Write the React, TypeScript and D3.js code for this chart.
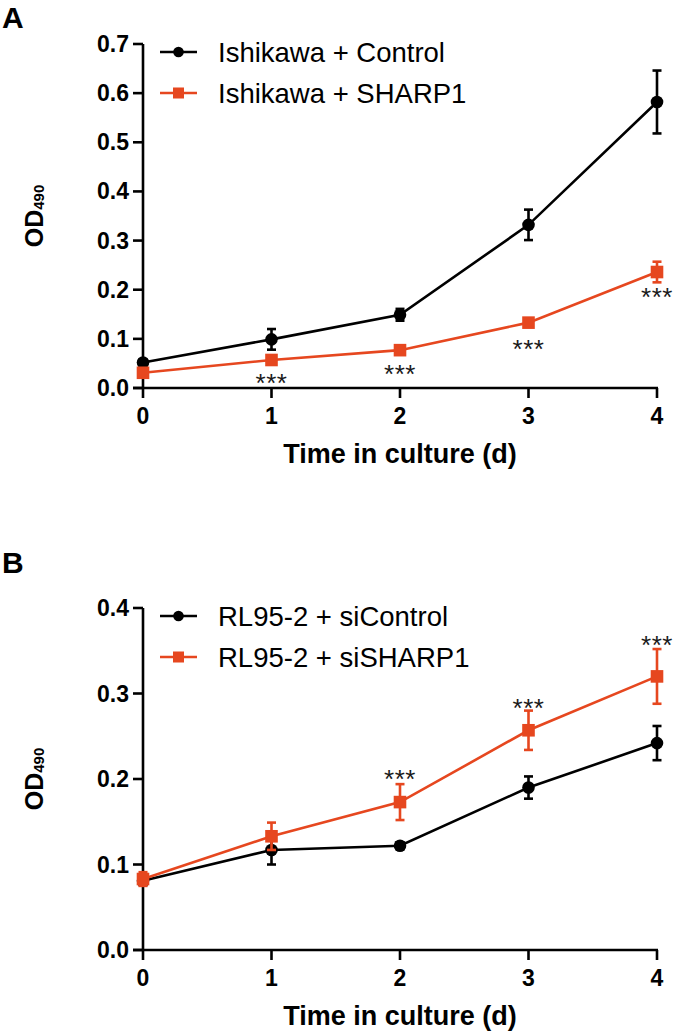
import React from "react";
import * as d3 from "d3";

// ---------- data ----------
const days = [0, 1, 2, 3, 4];

// Panel A
const aSeriesNames = ["Ishikawa + Control", "Ishikawa + SHARP1"];
const aControlMean = [0.052, 0.099, 0.149, 0.332, 0.582];
const aControlErr = [0.006, 0.021, 0.012, 0.031, 0.064];
const aSharpMean = [0.031, 0.057, 0.077, 0.133, 0.236];
const aSharpErr = [0.005, 0.006, 0.006, 0.008, 0.021];
const aYTicks = [0, 0.1, 0.2, 0.3, 0.4, 0.5, 0.6, 0.7];
const aStarDays = [1, 2, 3, 4];
const aStarY = [0.022, 0.041, 0.092, 0.197];

// Panel B
const bSeriesNames = ["RL95-2 + siControl", "RL95-2 + siSHARP1"];
const bControlMean = [0.081, 0.117, 0.122, 0.19, 0.242];
const bControlErr = [0.005, 0.017, 0.004, 0.013, 0.02];
const bSharpMean = [0.083, 0.133, 0.173, 0.257, 0.32];
const bSharpErr = [0.008, 0.016, 0.021, 0.023, 0.032];
const bYTicks = [0, 0.1, 0.2, 0.3, 0.4];
const bStarDays = [2, 3, 4];
const bStarY = [0.207, 0.29, 0.364];

const xTicks = [0, 1, 2, 3, 4];
const xTitle = "Time in culture (d)";

const RED = "#e6471f";
const BLACK = "#000";
const FONT = "'Liberation Sans', Arial, Helvetica, sans-serif";

type PanelProps = {
  letter: string;
  top: number;
  bottom: number;
  yMax: number;
  yTicks: number[];
  names: string[];
  cMean: number[];
  cErr: number[];
  sMean: number[];
  sErr: number[];
  starDays: number[];
  starY: number[];
  letterY: number;
};

function Panel(p: PanelProps) {
  const x = d3.scaleLinear().domain([0, 4]).range([143, 657]);
  const y = d3.scaleLinear().domain([0, p.yMax]).range([p.bottom, p.top]);
  const line = d3
    .line<number>()
    .x((_, i) => x(days[i]))
    .y((d) => y(d));

  const series = [
    { mean: p.cMean, err: p.cErr, color: BLACK, shape: "circle" },
    { mean: p.sMean, err: p.sErr, color: RED, shape: "square" },
  ];

  const fmt = d3.format(".1f");
  const midY = (p.top + p.bottom) / 2;

  return (
    <g fontFamily={FONT}>
      <text x={2} y={p.letterY} fontSize={30} fontWeight="bold">
        {p.letter}
      </text>
      <text
        transform={`translate(43,${midY}) rotate(-90)`}
        textAnchor="middle"
        fontSize={25}
        fontWeight="bold"
      >
        OD
        <tspan fontSize={15} dy={1}>
          490
        </tspan>
      </text>
      <line x1={143} x2={143} y1={y(p.yMax)} y2={y(0)} stroke="#000" strokeWidth={2.6} />
      {p.yTicks.map((t) => (
        <g key={t}>
          <line x1={133} x2={143} y1={y(t)} y2={y(t)} stroke="#000" strokeWidth={2.6} />
          <text x={129} y={y(t) + 8} textAnchor="end" fontSize={23} fontWeight="bold">
            {fmt(t)}
          </text>
        </g>
      ))}
      <line x1={133} x2={658} y1={y(0)} y2={y(0)} stroke="#000" strokeWidth={2.6} />
      {xTicks.map((t) => (
        <g key={t}>
          <line x1={x(t)} x2={x(t)} y1={y(0)} y2={y(0) + 10} stroke="#000" strokeWidth={2.6} />
          <text x={x(t)} y={y(0) + 36} textAnchor="middle" fontSize={23} fontWeight="bold">
            {t}
          </text>
        </g>
      ))}
      <text x={400} y={y(0) + 75} textAnchor="middle" fontSize={27} fontWeight="bold">
        {xTitle}
      </text>
      {series.map((s, si) => (
        <g key={si}>
          <path d={line(s.mean) || ""} fill="none" stroke={s.color} strokeWidth={2.6} />
          {s.mean.map((m, i) => {
            const cx = x(days[i]);
            const yt = y(m + s.err[i]);
            const yb = y(m - s.err[i]);
            return (
              <g key={i} stroke={s.color} strokeWidth={2.6}>
                <line x1={cx} x2={cx} y1={yt} y2={yb} />
                <line x1={cx - 4.5} x2={cx + 4.5} y1={yt} y2={yt} />
                <line x1={cx - 4.5} x2={cx + 4.5} y1={yb} y2={yb} />
                {s.shape === "circle" ? (
                  <circle cx={cx} cy={y(m)} r={6.3} fill={s.color} stroke="none" />
                ) : (
                  <rect x={cx - 6.3} y={y(m) - 6.3} width={12.6} height={12.6} fill={s.color} stroke="none" />
                )}
              </g>
            );
          })}
        </g>
      ))}
      {p.starDays.map((d, i) => (
        <text
          key={d}
          x={x(d)}
          y={y(p.starY[i]) + 15}
          textAnchor="middle"
          fontSize={26}
          letterSpacing={0.5}
          fill="#1a1a1a"
        >
          ***
        </text>
      ))}
      {series.map((s, si) => {
        const ly = p.top + 8 + si * 41;
        return (
          <g key={si}>
            <line x1={160} x2={197} y1={ly} y2={ly} stroke={s.color} strokeWidth={2.6} />
            {s.shape === "circle" ? (
              <circle cx={178.5} cy={ly} r={5.3} fill={s.color} />
            ) : (
              <rect x={173} y={ly - 5.5} width={11} height={11} fill={s.color} />
            )}
            <text x={218} y={ly + 10} fontSize={27.5}>
              {p.names[si]}
            </text>
          </g>
        );
      })}
    </g>
  );
}

export default function App() {
  return (
    <svg
      width={677}
      height={1036}
      style={{ position: "absolute", left: 0, top: 0, background: "#fff" }}
    >
      <rect width={677} height={1036} fill="#fff" />
      <Panel
        letter="A"
        top={44}
        bottom={388}
        yMax={0.7}
        yTicks={aYTicks}
        names={aSeriesNames}
        cMean={aControlMean}
        cErr={aControlErr}
        sMean={aSharpMean}
        sErr={aSharpErr}
        starDays={aStarDays}
        starY={aStarY}
        letterY={28}
      />
      <Panel
        letter="B"
        top={608}
        bottom={950}
        yMax={0.4}
        yTicks={bYTicks}
        names={bSeriesNames}
        cMean={bControlMean}
        cErr={bControlErr}
        sMean={bSharpMean}
        sErr={bSharpErr}
        starDays={bStarDays}
        starY={bStarY}
        letterY={573}
      />
    </svg>
  );
}
